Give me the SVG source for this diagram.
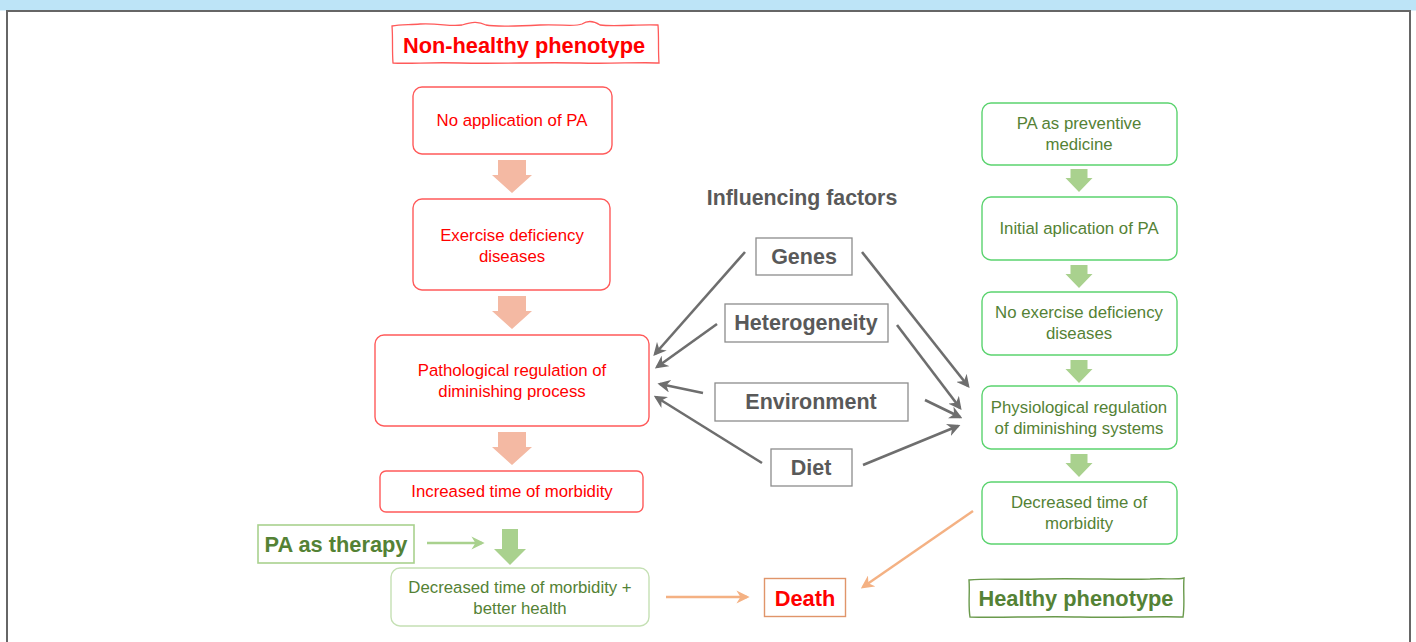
<svg xmlns="http://www.w3.org/2000/svg" width="1416" height="642" viewBox="0 0 1416 642">
  <style>
    text { font-family: "Liberation Sans", Arial, sans-serif; text-anchor: middle; dominant-baseline: central; }
    .red-box { fill: #ffffff; stroke: #ff5a5a; stroke-width: 1.4; }
    .red-txt { fill: #ff0000; font-size: 16.8px; }
    .grn-box { fill: #ffffff; stroke: #5bd36f; stroke-width: 1.4; }
    .grn-txt { fill: #548235; font-size: 16.8px; }
    .fac-box { fill: #ffffff; stroke: #8c8c8c; stroke-width: 1.3; }
    .fac-txt { fill: #595959; font-size: 21.5px; font-weight: bold; }
    .title { font-size: 21.8px; font-weight: bold; }
    .gray-arrow { stroke: #6e6e6e; stroke-width: 2.6; fill: none; marker-end: url(#gray-head); }
    .orange-arrow { stroke: #f4b183; stroke-width: 2.4; fill: none; marker-end: url(#orange-head); }
  </style>
  <defs>
    <marker id="gray-head" viewBox="0 0 10 10" refX="8" refY="5" markerWidth="5" markerHeight="5" orient="auto" markerUnits="strokeWidth">
      <path d="M0,0 L10,5 L0,10 L3,5 Z" fill="#6e6e6e"/>
    </marker>
    <marker id="orange-head" viewBox="0 0 10 10" refX="8" refY="5" markerWidth="5.5" markerHeight="5.5" orient="auto" markerUnits="strokeWidth">
      <path d="M0,0 L10,5 L0,10 L3,5 Z" fill="#f4b183"/>
    </marker>
    <marker id="green-head" viewBox="0 0 10 10" refX="8" refY="5" markerWidth="5.5" markerHeight="5.5" orient="auto" markerUnits="strokeWidth">
      <path d="M0,0 L10,5 L0,10 L3,5 Z" fill="#a9d18e"/>
    </marker>
    <!-- block arrows, drawn with their top centre at the origin -->
    <polygon id="salmon-block" points="-14,0 14,0 14,15 20,15 0,33 -20,15 -14,15" fill="#f4b9a3"/>
    <polygon id="green-block" points="-8.5,0 8.5,0 8.5,9 13.5,9 0,23 -13.5,9 -8.5,9" fill="#a9d18e"/>
  </defs>

  <!-- page background and frame -->
  <rect x="0" y="0" width="1416" height="642" fill="#ffffff"/>
  <rect x="0" y="0" width="1416" height="10.5" fill="#bde4f7"/>
  <path d="M7,642 L7,11 L1410,11 L1410,642" fill="none" stroke="#666666" stroke-width="2"/>

  <!-- left column: non-healthy phenotype -->
  <g id="non-healthy-title">
    <path d="M392,26 C400,24 410,25 420,24 C440,23 450,27 462,25 C472,22 478,21 486,25 C496,27 520,26 540,25 C560,24 575,27 582,24 C588,20 594,21 600,25 C615,27 640,24 658,25 C659,38 658,50 659,63 C640,62 610,64 580,63 C540,62 500,64 460,63 C430,62 410,64 393,63 C392,50 393,38 392,26 Z" fill="#ffffff" stroke="#ff5a5a" stroke-width="1.3"/>
    <text x="524" y="45" class="title" fill="#ff0000">Non-healthy phenotype</text>
  </g>
  <g id="no-application">
    <rect x="413" y="87" width="199" height="67" rx="9" class="red-box"/>
    <text x="512" y="120" class="red-txt">No application of PA</text>
  </g>
  <use href="#salmon-block" x="512" y="160"/>
  <g id="exercise-deficiency">
    <rect x="413" y="199" width="197" height="91" rx="9" class="red-box"/>
    <text x="512" y="235" class="red-txt">Exercise deficiency</text>
    <text x="512" y="256" class="red-txt">diseases</text>
  </g>
  <use href="#salmon-block" x="512" y="296"/>
  <g id="pathological-regulation">
    <rect x="375" y="335" width="274" height="91" rx="9" class="red-box"/>
    <text x="512" y="370" class="red-txt">Pathological regulation of</text>
    <text x="512" y="391" class="red-txt">diminishing process</text>
  </g>
  <use href="#salmon-block" x="512" y="432"/>
  <g id="increased-morbidity">
    <rect x="380" y="471" width="263" height="41" rx="6" class="red-box"/>
    <text x="512" y="491" class="red-txt">Increased time of morbidity</text>
  </g>
  <g id="pa-therapy">
    <rect x="258" y="525" width="156" height="38" fill="#ffffff" stroke="#a9d18e" stroke-width="1.6"/>
    <text x="336" y="544" class="title" fill="#548235">PA as therapy</text>
  </g>
  <polygon points="502,529 518,529 518,549 526,549 510,565 494,549 502,549" fill="#a9d18e"/>
  <g id="decreased-better-health">
    <rect x="391" y="568" width="258" height="58" rx="9" fill="#ffffff" stroke="#c5e0b4" stroke-width="1.4"/>
    <text x="520" y="587" class="grn-txt">Decreased time of morbidity +</text>
    <text x="520" y="608" class="grn-txt">better health</text>
  </g>
  <g id="death">
    <rect x="764.5" y="578.5" width="81" height="38" fill="#ffffff" stroke="#e0956a" stroke-width="1.4"/>
    <text x="805" y="598" class="title" fill="#ff0000">Death</text>
  </g>

  <!-- influencing factors -->
  <g id="influencing-factors">
    <text x="802" y="198" font-size="21.3" font-weight="bold" fill="#595959">Influencing factors</text>
  </g>
  <g id="genes">
    <rect x="756" y="238" width="96" height="37" class="fac-box"/>
    <text x="804" y="257" class="fac-txt">Genes</text>
  </g>
  <g id="heterogeneity">
    <rect x="725" y="304" width="163" height="38" class="fac-box"/>
    <text x="806" y="323" class="fac-txt">Heterogeneity</text>
  </g>
  <g id="environment">
    <rect x="715" y="383" width="193" height="38" class="fac-box"/>
    <text x="811" y="402" class="fac-txt">Environment</text>
  </g>
  <g id="diet">
    <rect x="771" y="449" width="81" height="37" class="fac-box"/>
    <text x="811" y="468" class="fac-txt">Diet</text>
  </g>

  <!-- right column: healthy phenotype -->
  <g id="pa-preventive">
    <rect x="982" y="103" width="195" height="62" rx="9" class="grn-box"/>
    <text x="1079" y="123" class="grn-txt">PA as preventive</text>
    <text x="1079" y="144" class="grn-txt">medicine</text>
  </g>
  <use href="#green-block" x="1079" y="169"/>
  <g id="initial-application">
    <rect x="982" y="197" width="195" height="63" rx="9" class="grn-box"/>
    <text x="1079" y="228" class="grn-txt">Initial aplication of PA</text>
  </g>
  <use href="#green-block" x="1079" y="265"/>
  <g id="no-exercise-deficiency">
    <rect x="982" y="292" width="195" height="63" rx="9" class="grn-box"/>
    <text x="1079" y="312" class="grn-txt">No exercise deficiency</text>
    <text x="1079" y="333" class="grn-txt">diseases</text>
  </g>
  <use href="#green-block" x="1079" y="360"/>
  <g id="physiological-regulation">
    <rect x="982" y="386" width="195" height="63" rx="9" class="grn-box"/>
    <text x="1079" y="407" class="grn-txt">Physiological regulation</text>
    <text x="1079" y="428" class="grn-txt">of diminishing systems</text>
  </g>
  <use href="#green-block" x="1079" y="454"/>
  <g id="decreased-morbidity">
    <rect x="982" y="482" width="195" height="62" rx="9" class="grn-box"/>
    <text x="1079" y="502" class="grn-txt">Decreased time of</text>
    <text x="1079" y="523" class="grn-txt">morbidity</text>
  </g>
  <g id="healthy-title">
    <path d="M969,580 C990,578 1010,580 1040,579 C1080,578 1120,580 1150,579 C1165,578 1175,580 1184,578 C1183,590 1185,605 1183,617 C1160,616 1120,618 1080,617 C1040,616 1000,618 970,617 C968,605 970,592 969,580 Z" fill="#ffffff" stroke="#6a9a4c" stroke-width="1.4"/>
    <text x="1076" y="598" class="title" fill="#548235">Healthy phenotype</text>
  </g>

  <!-- connectors -->
  <g id="connectors">
    <line x1="745" y1="252" x2="655" y2="354" class="gray-arrow"/>
    <line x1="717" y1="324" x2="657" y2="367" class="gray-arrow"/>
    <line x1="703" y1="393" x2="660" y2="384" class="gray-arrow"/>
    <line x1="762" y1="463" x2="656" y2="397" class="gray-arrow"/>
    <line x1="862" y1="252" x2="968" y2="386" class="gray-arrow"/>
    <line x1="897" y1="325" x2="960" y2="408" class="gray-arrow"/>
    <line x1="925" y1="400" x2="960" y2="417" class="gray-arrow"/>
    <line x1="863" y1="465" x2="958" y2="426" class="gray-arrow"/>
    <line x1="427" y1="543" x2="482" y2="543" stroke="#a9d18e" stroke-width="2.4" marker-end="url(#green-head)"/>
    <line x1="666" y1="597" x2="747" y2="597" class="orange-arrow"/>
    <line x1="973" y1="511" x2="863" y2="587" class="orange-arrow"/>
  </g>
</svg>
